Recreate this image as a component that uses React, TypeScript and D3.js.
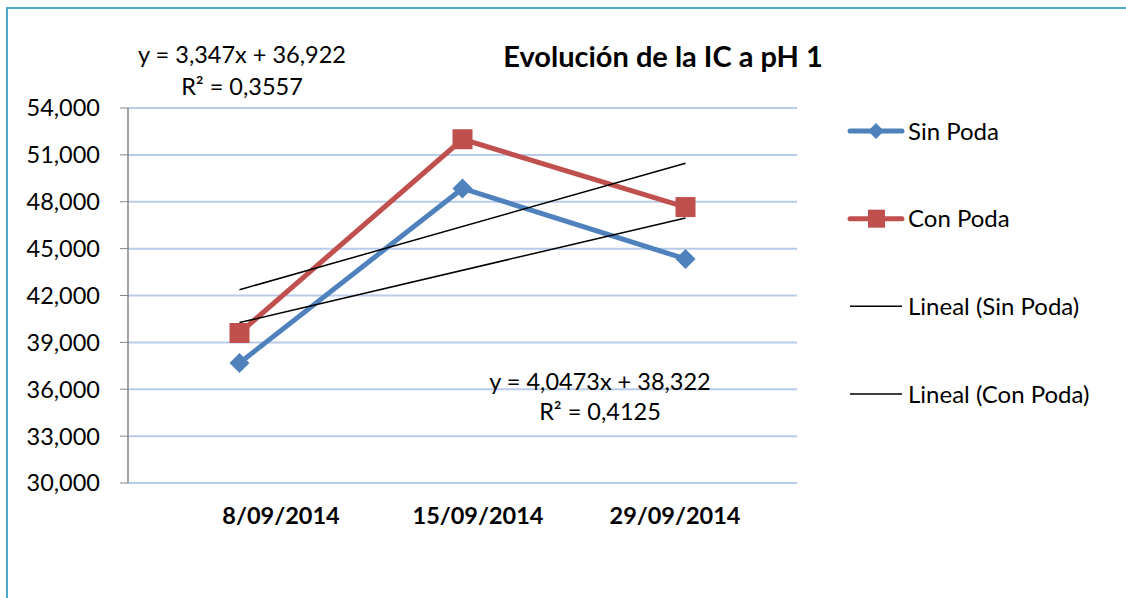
import React from "react";
import * as d3 from "d3";

const categories = ["8/09/2014", "15/09/2014", "29/09/2014"];
const sinPoda = [37680, 48850, 44340];
const conPoda = [39600, 52000, 47660];
const yTicks = [30000, 33000, 36000, 39000, 42000, 45000, 48000, 51000, 54000];
// trend lines (thousands): y = a*x + b
const trendSin = { a: 3.347, b: 36.922, eq: "y = 3,347x + 36,922", r2: "R² = 0,3557" };
const trendCon = { a: 4.0473, b: 38.322, eq: "y = 4,0473x + 38,322", r2: "R² = 0,4125" };
const title = "Evolución de la IC a pH 1";
const legendItems = ["Sin Poda", "Con Poda", "Lineal (Sin Poda)", "Lineal (Con Poda)"];

const W = 1126, H = 598;
const FONT = "Lato, 'Open Sans', sans-serif";
const BLUE = "#4f81bd";
const RED = "#c0504d";
const FS = 23.5;

export default function App() {
  const x = d3.scaleBand<string>().domain(categories).range([128, 797]);
  const cx = (c: string) => (x(c) as number) + x.bandwidth() / 2;
  const y = d3.scaleLinear().domain([30000, 54000]).range([483, 108]);
  const xl = d3.scalePoint<string>().domain(categories).range([281, 675]);
  const ly = d3.scalePoint<string>().domain(legendItems).range([131, 394]);
  const line = d3.line<number>().x((_, i) => cx(categories[i])).y((d) => y(d));
  const fmt = d3.format(",");
  const trendPts = (t: { a: number; b: number }) =>
    [1, 3].map((k) => [cx(categories[k - 1]), y((t.a * k + t.b) * 1000)] as [number, number]);

  const diamond = (px: number, py: number, r: number) =>
    `M${px},${py - r}L${px + r},${py}L${px},${py + r}L${px - r},${py}Z`;

  const l0 = ly(legendItems[0]) as number;
  const l1 = ly(legendItems[1]) as number;
  const l2 = ly(legendItems[2]) as number;
  const l3 = ly(legendItems[3]) as number;

  return (
    <svg width={W} height={H} style={{ position: "absolute", left: 0, top: 0, background: "#fff" }} fontFamily={FONT}>
      <rect x={7} y={8} width={W + 10} height={H + 10} fill="#fff" stroke="#4bacc6" strokeWidth={2} />
      {yTicks.map((t) => (
        <g key={t}>
          <line x1={128} x2={797} y1={y(t)} y2={y(t)} stroke="#b9cbea" strokeWidth={2} />
          <line x1={120} x2={128} y1={y(t)} y2={y(t)} stroke="#868686" strokeWidth={1} />
          <text x={100} y={y(t)} dy="0.36em" textAnchor="end" fontSize={FS} fill="#000">{fmt(t)}</text>
        </g>
      ))}
      <line x1={128} x2={128} y1={108} y2={483} stroke="#868686" strokeWidth={1.5} />
      {categories.map((c) => (
        <text key={c} x={xl(c)} y={524} textAnchor="middle" fontSize={FS} fontWeight="bold" fill="#000">{c}</text>
      ))}
      <path d={line(sinPoda) as string} fill="none" stroke={BLUE} strokeWidth={5} strokeLinejoin="round" />
      <path d={line(conPoda) as string} fill="none" stroke={RED} strokeWidth={5} strokeLinejoin="round" />
      {sinPoda.map((v, i) => (
        <path key={i} d={diamond(cx(categories[i]), y(v), 10)} fill={BLUE} />
      ))}
      {conPoda.map((v, i) => (
        <rect key={i} x={cx(categories[i]) - 10} y={y(v) - 10} width={20} height={20} fill={RED} />
      ))}
      {[trendSin, trendCon].map((t, i) => {
        const p = trendPts(t);
        return <line key={i} x1={p[0][0]} y1={p[0][1]} x2={p[1][0]} y2={p[1][1]} stroke="#000" strokeWidth={1.5} />;
      })}
      <text x={663} y={67} textAnchor="middle" fontSize={29} fontWeight="bold" fill="#000">{title}</text>
      <text x={242} y={63} textAnchor="middle" fontSize={FS} fill="#000">{trendSin.eq}</text>
      <text x={242} y={95} textAnchor="middle" fontSize={FS} fill="#000">{trendSin.r2}</text>
      <text x={600} y={390} textAnchor="middle" fontSize={FS} fill="#000">{trendCon.eq}</text>
      <text x={600} y={420} textAnchor="middle" fontSize={FS} fill="#000">{trendCon.r2}</text>
      {/* legend */}
      <g>
        <line x1={850} x2={902} y1={l0} y2={l0} stroke={BLUE} strokeWidth={5} strokeLinecap="round" />
        <path d={diamond(876, l0, 8)} fill={BLUE} />
        <line x1={850} x2={902} y1={l1} y2={l1} stroke={RED} strokeWidth={5} strokeLinecap="round" />
        <rect x={868} y={l1 - 9} width={17} height={18} fill={RED} />
        <line x1={850} x2={902} y1={l2} y2={l2} stroke="#000" strokeWidth={1.5} />
        <line x1={850} x2={902} y1={l3} y2={l3} stroke="#000" strokeWidth={1.5} />
        {legendItems.map((s) => (
          <text key={s} x={908} y={ly(s)} dy="0.36em" fontSize={24} fill="#000">{s}</text>
        ))}
      </g>
    </svg>
  );
}
